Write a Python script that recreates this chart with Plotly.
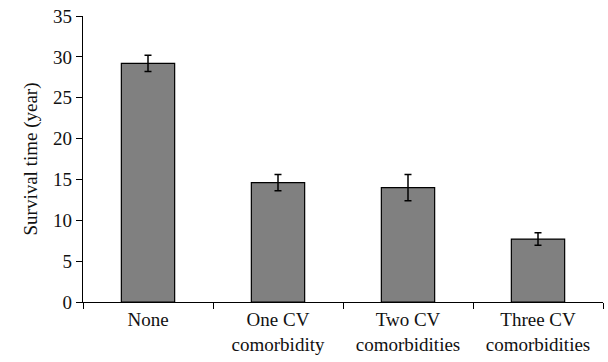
import plotly.graph_objects as go

categories = ["None", "One CV<br>comorbidity", "Two CV<br>comorbidities", "Three CV<br>comorbidities"]
survival = [29.2, 14.6, 14.0, 7.7]
errors = [1.0, 1.0, 1.6, 0.77]
y_ticks = [0, 5, 10, 15, 20, 25, 30, 35]

font_family = "Liberation Serif, Times New Roman, serif"
fsize = 19

fig = go.Figure(
    go.Bar(
        x=categories,
        y=survival,
        marker=dict(color="#808080", line=dict(color="black", width=1.2)),
        error_y=dict(type="data", array=errors, visible=True, color="black", thickness=1.5, width=3.5),
        width=0.41,
    )
)

fig.update_layout(
    width=608,
    height=362,
    margin=dict(l=83, r=5, t=16, b=60),
    plot_bgcolor="white",
    paper_bgcolor="white",
    showlegend=False,
    font=dict(family=font_family, size=fsize, color="#111111"),
)

fig.update_xaxes(
    showline=True, linecolor="black", linewidth=1.2,
    ticks="outside", tickson="boundaries", ticklen=6, tickcolor="black", tickwidth=1.2,
    showgrid=False, tickfont=dict(size=fsize), automargin=False,
)
fig.update_yaxes(
    range=[0, 35], tickvals=y_ticks,
    showline=True, linecolor="black", linewidth=1.2,
    ticks="outside", ticklen=6, tickcolor="black", tickwidth=1.2,
    showgrid=False, zeroline=False, automargin=False,
    title=dict(text="Survival time (year)", font=dict(size=fsize), standoff=10),
    tickfont=dict(size=fsize),
)

fig.write_html(
    "out.html",
    config={"displayModeBar": False},
    post_script="document.body.style.margin='0'; document.body.style.overflow='hidden';",
)
